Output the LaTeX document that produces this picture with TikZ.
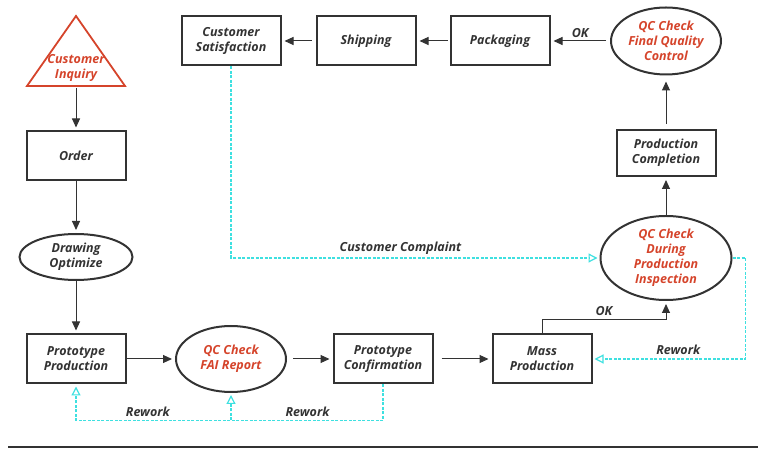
\documentclass[tikz,border=0pt]{standalone}
\usepackage{fontspec}
\setmainfont{Open Sans}
\usetikzlibrary{positioning,shapes.geometric,arrows.meta}
\definecolor{ink}{HTML}{333333}
\definecolor{qcred}{HTML}{D5442B}
\definecolor{aqua}{HTML}{3EE0E0}
\tikzstyle{Box} = [rectangle, draw=ink, line width=2pt, minimum width=99pt, minimum height=49pt]
\tikzstyle{Oval} = [ellipse, draw=ink, line width=2pt, inner sep=0pt, text=qcred]
\tikzstyle{Tri} = [draw=qcred, line width=1.8pt]
\tikzstyle{Arrow} = [
draw=ink,
line width=1pt,
-{Triangle[length=9pt,width=8pt]},
shorten >= 3pt
]
\tikzstyle{Rework} = [
draw=aqua,
line width=1.2pt,
dash pattern=on 3pt off 1.5pt,
-{Triangle[open,length=9pt,width=9pt]},
shorten >= 2pt
]

\begin{document}
\begin{tikzpicture}[x=1pt, y=1pt, on grid,
    every node/.style={font=\fontsize{12.5}{15}\selectfont\bfseries\itshape, text=ink, align=center}]
            \useasboundingbox (0,0) rectangle (770,449);
            \node [text=qcred] (1) at (76,381) {Customer\\Inquiry};
            \draw[Tri] (76,433) -- (125,363) -- (27,363) -- cycle;
            \coordinate (1b) at (76,363);
            \node [Box, below=88pt of 1] (2) {Order};
            \node [Oval, text=ink, minimum width=113pt, minimum height=46pt, below=101pt of 2] (3) {Drawing\\Optimize};
            \node [Box, below=102pt of 3] (4) {Prototype\\Production};
            \node [Oval, minimum width=110pt, minimum height=66pt, right=155pt of 4] (5) {QC Check\\FAI Report};
            \node [Box, right=152pt of 5] (6) {Prototype\\Confirmation};
            \node [Box, right=159pt of 6] (7) {Mass\\Production};
            \node [Oval, minimum width=131pt, minimum height=84pt, above right=101pt and 124pt of 7] (8) {QC Check\\During\\Production\\Inspection};
            \node [Box, minimum height=46pt, above=105pt of 8] (9) {Production\\Completion};
            \node [Oval, minimum width=110pt, minimum height=67pt, above=112pt of 9] (10) {QC Check\\Final Quality\\Control};
            \node [Box, left=166pt of 10] (11) {Packaging};
            \node [Box, left=134pt of 11] (12) {Shipping};
            \node [Box, left=135pt of 12] (13) {Customer\\Satisfaction};

            \draw[Arrow, shorten <=2pt] (1b) -- (2);
            \draw[Arrow] (2) -- (3);
            \draw[Arrow] (3) -- (4);
            \draw[Arrow] (4) -- (5);
            \draw[Arrow, shorten <=6pt] (5) -- (6);
            \draw[Arrow, shorten <=8pt] (6) -- (7);
            \draw[Arrow] (7.north) -- ++(0,14) -| node[pos=0.25, above] {OK} (8.south);
            \draw[Arrow] (8) -- (9);
            \draw[Arrow, shorten <=5pt, shorten >=6pt] (9) -- (10);
            \draw[Arrow, shorten <=4pt] (10) -- node[above] {OK} (11);
            \draw[Arrow, shorten <=2pt] (11) -- (12);
            \draw[Arrow, shorten <=4pt] (12) -- (13);
            \draw[Rework] (13) |- node[pos=0.73, above] {Customer Complaint} (8);
            \draw[Rework] (8.east) -- ++(13,0) |- node[pos=0.72, above] {Rework} (7.east);
            \draw[Rework] (6.south) -- ++(0,-36) coordinate (14) -| node[pos=0.123, above] {Rework} node[pos=0.383, above] {Rework} (4.south);
            \draw[Rework] (14 -| 5.south) -- (5.south);
            \draw[ink, line width=2.5pt] (8,2) -- (758,2);
        \end{tikzpicture}
\end{document}
